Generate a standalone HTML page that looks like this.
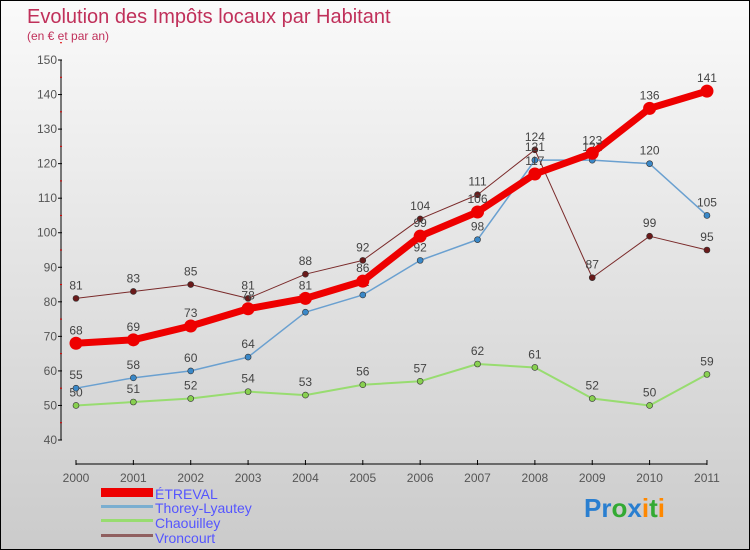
<!DOCTYPE html>
<html><head><meta charset="utf-8"><style>
body{margin:0}
#c{position:relative;width:748px;height:548px;border:1px solid #000;background:linear-gradient(#fafafa,#cbcbcb);font-family:"Liberation Sans",sans-serif;overflow:hidden}
</style></head><body>
<div id="c">
<svg id="s" width="748" height="548" xmlns="http://www.w3.org/2000/svg">
<text x="26" y="22" font-size="20" fill="#c0305a">Evolution des Impôts locaux par Habitant</text>
<text x="26" y="39" font-size="12" fill="#c0305a">(en € et par an)</text>
<g id="axes"></g><g id="series"></g>
<g>
<rect x="100" y="487" width="52" height="9" fill="#e00"/>
<text x="154" y="498" font-size="14" fill="#55f">ÉTREVAL</text>
<rect x="100" y="504" width="52" height="3" fill="#7aaed0"/>
<text x="154" y="512" font-size="14" fill="#55f">Thorey-Lyautey</text>
<rect x="100" y="518" width="52" height="3" fill="#98dc70"/>
<text x="154" y="527" font-size="14" fill="#55f">Chaouilley</text>
<rect x="100" y="533" width="52" height="3" fill="#906060"/>
<text x="154" y="542" font-size="14" fill="#55f">Vroncourt</text>
</g>
<text x="583" y="516" font-size="26" font-weight="bold"><tspan fill="#2a7fd0">Pr</tspan><tspan fill="#3a3">o</tspan><tspan fill="#2a7fd0">x</tspan><tspan fill="#f80">i</tspan><tspan fill="#3a3">t</tspan><tspan fill="#f80">i</tspan></text>
</svg></div>
<script>
const years=["2000","2001","2002","2003","2004","2005","2006","2007","2008","2009","2010","2011"];
const yTicks=[40,50,60,70,80,90,100,110,120,130,140,150];
const etreval=[68,69,73,78,81,86,99,106,117,123,136,141];
const thorey=[55,58,60,64,77,82,92,98,121,121,120,105];
const chaouilley=[50,51,52,54,53,56,57,62,61,52,50,59];
const vroncourt=[81,83,85,81,88,92,104,111,124,87,99,95];
const NS="http://www.w3.org/2000/svg";
const X=i=>75+i*57.36, Y=v=>439-(v-40)*3.4545;
function mk(t,a,p){const e=document.createElementNS(NS,t);for(const k in a)e.setAttribute(k,a[k]);p.appendChild(e);return e;}
const ax=document.getElementById('axes'), se=document.getElementById('series');
let yl=mk('line',{x1:60,y1:Y(150),x2:60,y2:Y(40),stroke:'#000'},ax);


yTicks.forEach(v=>{
 mk('line',{x1:57,x2:61,y1:Y(v),y2:Y(v),stroke:'#000'},ax);
 mk('line',{x1:59,x2:61,y1:Y(v+5),y2:Y(v+5),stroke:'#d00'},ax);
 const t=mk('text',{x:56,y:Y(v)+4,'font-size':12,fill:'#555','text-anchor':'end'},ax);
 t.textContent=v;
 
 
});
let xl=mk('line',{x1:X(0),y1:463,x2:X(11),y2:463,stroke:'#000'},ax);


years.forEach((y,i)=>{
 mk('line',{x1:X(i),x2:X(i),y1:459,y2:464,stroke:'#000'},ax);
 const t=mk('text',{x:X(i),y:481,'font-size':12,fill:'#555','text-anchor':'middle'},ax);
 t.textContent=y;
 
 
});
function draw(data,name,color,w,r,dot){
 const g=mk('g',{},se);
 
 
 mk('polyline',{points:data.map((v,i)=>X(i)+','+Y(v)).join(' '),fill:'none',stroke:color,'stroke-width':w,'stroke-linejoin':'round'},g);
 data.forEach((v,i)=>{
  const c=mk('circle',{cx:X(i),cy:Y(v),r:r,fill:dot,stroke:'#333','stroke-width':r>4?0:0.6},g);
  
  
  const t=mk('text',{x:X(i),y:Y(v)-9,'font-size':12,fill:'#444','text-anchor':'middle'},g);
  t.textContent=v;
  
  
 });
}
draw(vroncourt,'vroncourt','#7a2a2a',1,3,'#6a1a1a');
draw(chaouilley,'chaouilley','#98dc70',2,3,'#88d050');
draw(thorey,'thorey','#6aa0d0',1.5,3,'#3a88c8');
draw(etreval,'etreval','#e00',7,6.5,'#e00');
</script>
</body></html>
